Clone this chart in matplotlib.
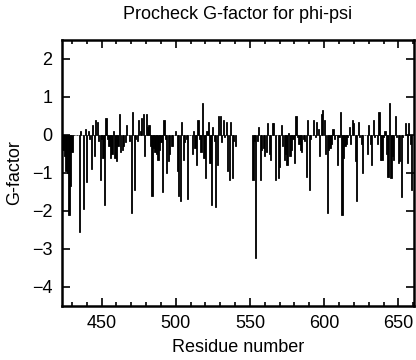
import numpy as np
import matplotlib
matplotlib.use('Agg')
import matplotlib.pyplot as plt
from matplotlib.ticker import MultipleLocator

# G-factor per residue
start_a = 424
gfac_a = [-0.40, -0.55, -0.95, -1.00, -2.10, -1.35, -0.45, 0.00, 0.00, 0.00,
          0.00, -2.55, 0.10, 0.00, -1.95, 0.15, -1.25, 0.10, -0.10, -0.90,
          0.25, -0.55, 0.40, 0.35, -0.15, -1.20, -0.10, -0.60, -1.85, 0.45,
          -0.10, -0.30, -0.60, -0.50, 0.10, -0.60, -0.70, -0.30,
          0.55, -0.45, -0.40, -0.30, -0.20, 0.25, 0.00, -0.15, -2.05, 0.60,
          -1.45, -0.10, -0.15, 0.40, 0.10, 0.45, 0.55, -0.55, 0.55, 0.20,
          0.25, -0.30, -1.60, -0.35, -0.45, -0.50, -0.65, -0.40, -0.20, -1.50,
          0.38, -0.10, -1.00, -0.70, -0.50, -0.30, -0.30, 0.00, 0.10,
          -0.95, -1.60, -1.75, 0.35, -0.65, -0.20, -0.10, -1.70, 0.00, 0.00,
          -0.50, 0.10, -0.35, -0.80, 0.40, -0.10, -0.45, 0.85, -0.60, -1.15,
          0.10, 0.35, -0.75, -1.85, 0.20, -0.15, -1.90, -0.80, 0.50, 0.50,
          -0.20, 0.40, -0.05, 0.35, -0.95, -1.20, 0.35, -1.15, -0.15, -0.30]

start_b = 552
gfac_b = [-1.20, -0.15, -3.25, -0.15, 0.20, -1.20, -0.40, -0.35, -0.55, -0.45,
          0.30, -0.50, -0.65, 0.30, 0.30, -1.20, 0.00, -1.15, -0.85, 0.25,
          -0.30, -0.65, -0.50, -0.80, 0.05, -0.55, -0.40, -0.10, -0.75, 0.50,
          -0.05, -0.25, -0.40, -0.45, -0.10, -0.15,
          -1.10, 0.40, -1.45, -0.10, 0.00, 0.40, -0.05, 0.35, 0.15, -0.55,
          0.55, 0.65, 0.40, -0.50, -2.05, -0.40, -0.35, -0.25, 0.15, -0.10,
          0.00, -0.80, -0.05, 0.60, -2.10, -0.60, -0.30, -0.25, -0.05, 0.20,
          -0.25, 0.40, 0.30, -0.70, -1.75, 0.35,
          -0.05, -0.25, -1.00, 0.00, 0.00, -0.50, 0.25, -0.25, -0.80, 0.40,
          -0.05, 0.00, -0.25, 0.60, -0.65, -0.65, -0.05, 0.10, -0.50, -1.10,
          0.85, -1.15, -0.55, -0.65, 0.50, -0.05, -0.75, -0.70, -1.65, -0.05,
          0.00, 0.30, -0.75, 0.30, -0.25, -1.45]

plt.rcParams['font.family'] = ['Liberation Sans', 'DejaVu Sans']
plt.rcParams['font.size'] = 13

fig = plt.figure(figsize=(4.16, 3.6), dpi=100)
ax = fig.add_axes([0.149, 0.151, 0.846, 0.738])

for start, vals in ((start_a, gfac_a), (start_b, gfac_b)):
    x = np.arange(start, start + len(vals))
    ax.bar(x, vals, width=0.8, color='black', edgecolor='black', linewidth=0.6)

ax.set_xlim(423.3, 660.5)
ax.set_ylim(-4.5, 2.5)
ax.xaxis.set_major_locator(MultipleLocator(50))
ax.xaxis.set_minor_locator(MultipleLocator(10))
ax.yaxis.set_major_locator(MultipleLocator(1))
ax.tick_params(which='both', direction='in', top=True, right=True, width=1.2, pad=7)
ax.tick_params(which='major', length=6)
ax.tick_params(which='minor', length=3)
for sp in ax.spines.values():
    sp.set_linewidth(1.8)

ax.set_title('Procheck G-factor for phi-psi', fontsize=13, pad=15)
ax.set_xlabel('Residue number', labelpad=5)
ax.set_ylabel('G-factor', labelpad=6)

plt.savefig('out.png', dpi=100)
